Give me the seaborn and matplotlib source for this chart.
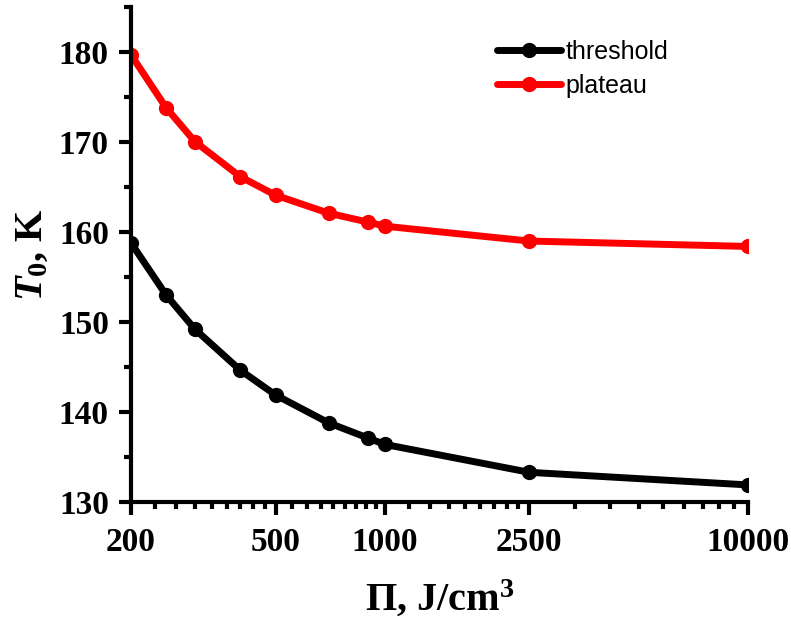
import numpy as np
import pandas as pd
import matplotlib
matplotlib.use("Agg")
import matplotlib.pyplot as plt
import seaborn as sns
from matplotlib.ticker import FixedLocator, FixedFormatter, NullFormatter

# Energy density values (J/cm^3) and characteristic temperatures (K)
pi_values = [200, 250, 300, 400, 500, 700, 900, 1000, 2500, 10000]
t0_threshold = [158.8, 153.0, 149.2, 144.65, 141.9, 138.8, 137.1, 136.4, 133.3, 131.9]
t0_plateau = [179.7, 173.8, 170.05, 166.15, 164.1, 162.1, 161.1, 160.65, 159.0, 158.4]
series_names = ["threshold", "plateau"]
series_colors = ["#000000", "#ff0000"]
x_major_ticks = [200, 500, 1000, 2500, 10000]
x_tick_labels = ["200", "500", "1000", "2500", "10000"]
y_major_ticks = [130, 140, 150, 160, 170, 180]

df = pd.concat([
    pd.DataFrame({"Pi": pi_values, "T0": t0_threshold, "series": series_names[0]}),
    pd.DataFrame({"Pi": pi_values, "T0": t0_plateau, "series": series_names[1]}),
])

sns.set_style("ticks")
plt.rcParams["font.family"] = ["Liberation Serif", "DejaVu Serif"]
plt.rcParams["text.color"] = "black"
plt.rcParams["axes.labelcolor"] = "black"
plt.rcParams["xtick.color"] = "black"
plt.rcParams["ytick.color"] = "black"
plt.rcParams["axes.edgecolor"] = "black"
plt.rcParams["mathtext.fontset"] = "custom"
plt.rcParams["mathtext.rm"] = "Liberation Serif:bold"
plt.rcParams["mathtext.bf"] = "Liberation Serif:bold"
plt.rcParams["mathtext.it"] = "Liberation Serif:bold:italic"

fig = plt.figure(figsize=(7.91, 6.21), dpi=100)
ax = fig.add_axes([0.1656, 0.1916, 0.780, 0.797])

sns.lineplot(data=df, x="Pi", y="T0", hue="series", hue_order=series_names,
             palette=series_colors, marker="o", markersize=11, linewidth=5,
             markeredgewidth=0, ax=ax, legend=True)

ax.set_xscale("log")
ax.set_xlim(200, 10000)
ax.set_ylim(130, 185)

# major/minor ticks: minor ticks evenly spaced in value between majors
minor_x = []
for a, b in zip(x_major_ticks[:-1], x_major_ticks[1:]):
    minor_x.extend(np.linspace(a, b, 10)[1:-1])
ax.xaxis.set_major_locator(FixedLocator(x_major_ticks))
ax.xaxis.set_major_formatter(FixedFormatter(x_tick_labels))
ax.xaxis.set_minor_locator(FixedLocator(minor_x))
ax.xaxis.set_minor_formatter(NullFormatter())
ax.yaxis.set_major_locator(FixedLocator(y_major_ticks))
ax.yaxis.set_minor_locator(FixedLocator([135, 145, 155, 165, 175, 185]))

for side in ["top", "right"]:
    ax.spines[side].set_visible(False)
for side in ["left", "bottom"]:
    ax.spines[side].set_linewidth(3)

ax.tick_params(axis="both", which="major", direction="out", length=9, width=3,
               labelsize=24)
ax.tick_params(axis="x", which="major", pad=9)
ax.tick_params(axis="y", which="major", pad=7)
ax.tick_params(axis="both", which="minor", direction="out", length=5, width=3)
for lbl in ax.get_xticklabels() + ax.get_yticklabels():
    lbl.set_fontweight("bold")

ax.set_xlabel(r"$\Pi$, J/cm$^\mathbf{3}$", fontsize=29, fontweight="bold")
ax.set_ylabel(r"$T_\mathbf{0}$, K", fontsize=29, fontweight="bold")
ax.xaxis.set_label_coords(0.5, -0.153)
ax.yaxis.set_label_coords(-0.13, 0.5)

leg = ax.legend(loc="upper left", bbox_to_anchor=(0.593, 0.933), frameon=False,
                prop={"family": "Liberation Sans", "size": 18},
                borderpad=0, borderaxespad=0,
                handlelength=2.55, handletextpad=0.2, labelspacing=0.38)
for h in leg.get_lines():
    h.set_linewidth(5)
    h.set_markersize(11)

fig.savefig("out.png", dpi=100)
